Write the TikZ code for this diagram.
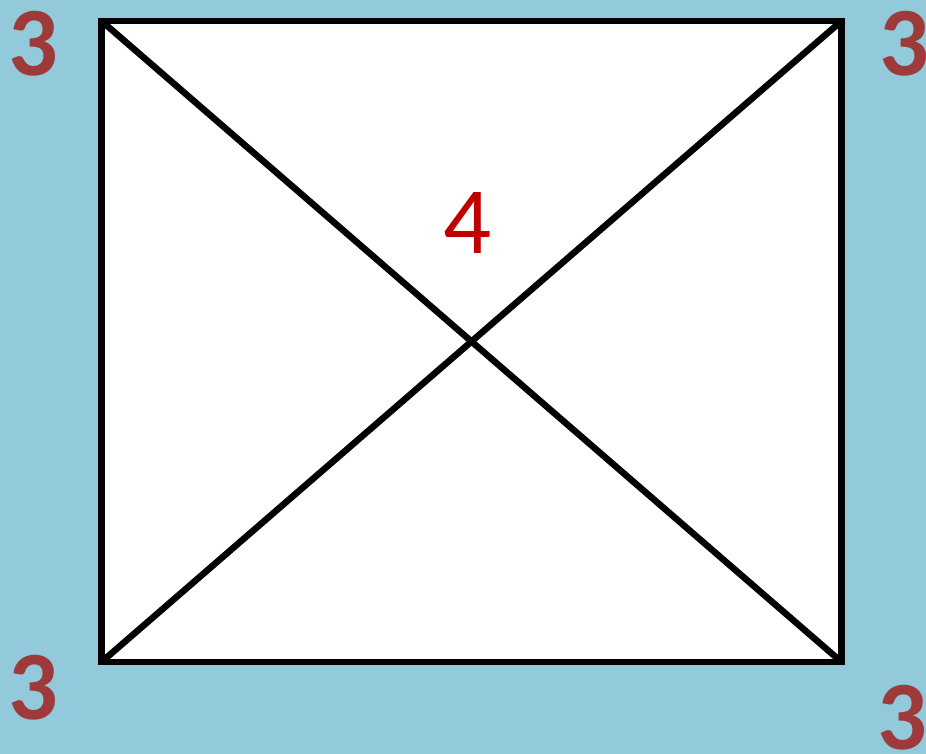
\documentclass[tikz,border=0pt]{standalone}
\usepackage{fontspec}
\setmainfont{Carlito}
\definecolor{bg}{RGB}{146,202,219}
\definecolor{darkred}{RGB}{158,58,58}
\definecolor{brightred}{RGB}{192,0,0}
\begin{document}
\begin{tikzpicture}[x=1pt,y=1pt,
  corner/.style={text=darkred,font=\fontsize{98}{98}\selectfont\bfseries,inner sep=0pt},
  frame/.style={line width=6.5pt,black}]
\fill[bg] (0,0) rectangle (926,754);
\useasboundingbox (0,0) rectangle (926,754);
\coordinate (tl) at (101.5,733);
\coordinate (tr) at (841.5,733);
\coordinate (bl) at (101.5,92);
\coordinate (br) at (841.5,92);
\fill[white] (tl) rectangle (br);
\draw[frame] (tl) -- (br);
\draw[frame] (tr) -- (bl);
\draw[frame,line join=miter] (tl) -- (tr) -- (br) -- (bl) -- cycle;
\node[text=brightred,font=\fontsize{95}{95}\selectfont,inner sep=0pt] (four) at (468,531) {4};
\node[corner] (c1) at (33,710) {3};
\node[corner] (c2) at (904,710) {3};
\node[corner] (c3) at (33,66) {3};
\node[corner] (c4) at (902,36) {3};
\end{tikzpicture}
\end{document}
